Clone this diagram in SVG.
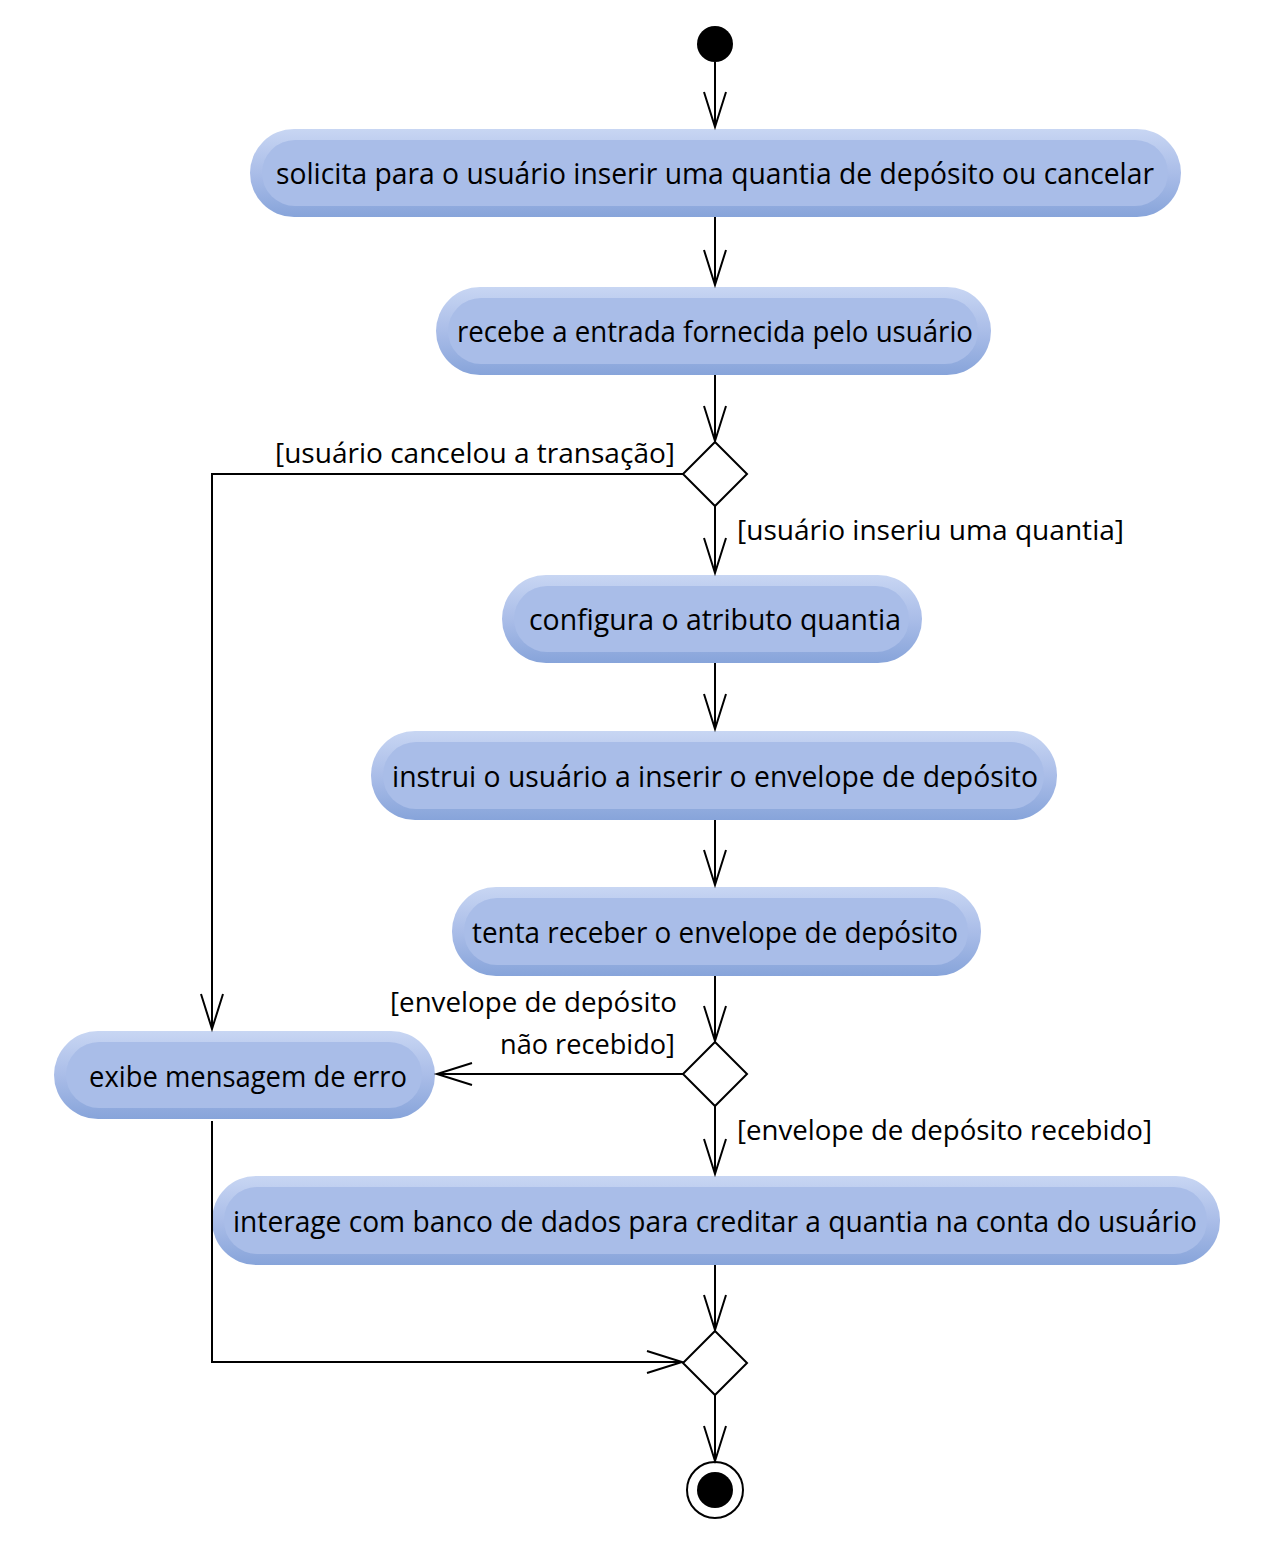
<svg xmlns="http://www.w3.org/2000/svg" width="1275" height="1544" viewBox="0 0 1275 1544">
<style>
.t{font-family:"Open Sans","DejaVu Sans",sans-serif;font-size:29px;fill:#000;text-anchor:middle}
.l{font-family:"Open Sans","DejaVu Sans",sans-serif;font-size:28px;fill:#000}
.in{fill:#a9bde8}
.c{fill:none;stroke:#000;stroke-width:2}
.d{fill:#fff;stroke:#000;stroke-width:2}
</style>
<defs>
<linearGradient id="g" x1="0" y1="0" x2="0" y2="1">
<stop offset="0" stop-color="#c8d6f3"/>
<stop offset="0.5" stop-color="#aabde8"/>
<stop offset="1" stop-color="#87a4da"/>
</linearGradient>
<marker id="a" markerWidth="40" markerHeight="24" refX="36" refY="12" orient="auto" markerUnits="userSpaceOnUse">
<path d="M1,1 L36,12 L1,23" fill="none" stroke="#000" stroke-width="2"/>
</marker>
</defs>
<g id="start"><circle cx="715" cy="44" r="18" fill="#000"/></g>
<g id="n1"><rect x="250" y="129" width="931" height="88" rx="44" fill="url(#g)"/><rect x="262" y="140" width="906" height="66" rx="33" class="in"/><text class="t" x="715" y="184" textLength="878" lengthAdjust="spacingAndGlyphs">solicita para o usuário inserir uma quantia de depósito ou cancelar</text></g>
<g id="n2"><rect x="436" y="287" width="555" height="88" rx="44" fill="url(#g)"/><rect x="448" y="298" width="530" height="66" rx="33" class="in"/><text class="t" x="715" y="342" textLength="516" lengthAdjust="spacingAndGlyphs">recebe a entrada fornecida pelo usuário</text></g>
<g id="d1"><path class="d" d="M715,442 L747,474 L715,506 L683,474 Z"/></g>
<g id="n3"><rect x="502" y="575" width="420" height="88" rx="44" fill="url(#g)"/><rect x="514" y="586" width="395" height="66" rx="33" class="in"/><text class="t" x="715" y="630" textLength="372" lengthAdjust="spacingAndGlyphs">configura o atributo quantia</text></g>
<g id="n4"><rect x="371" y="731" width="686" height="89" rx="44" fill="url(#g)"/><rect x="383" y="742" width="661" height="67" rx="33" class="in"/><text class="t" x="715" y="787" textLength="646" lengthAdjust="spacingAndGlyphs">instrui o usuário a inserir o envelope de depósito</text></g>
<g id="n5"><rect x="452" y="887" width="529" height="89" rx="44" fill="url(#g)"/><rect x="464" y="898" width="504" height="67" rx="33" class="in"/><text class="t" x="715" y="943" textLength="486" lengthAdjust="spacingAndGlyphs">tenta receber o envelope de depósito</text></g>
<g id="d2"><path class="d" d="M715,1042 L747,1074 L715,1106 L683,1074 Z"/></g>
<g id="n6"><rect x="54" y="1031" width="381" height="88" rx="44" fill="url(#g)"/><rect x="66" y="1042" width="356" height="66" rx="33" class="in"/><text class="t" x="248" y="1087" textLength="318" lengthAdjust="spacingAndGlyphs">exibe mensagem de erro</text></g>
<g id="n7"><rect x="212" y="1176" width="1008" height="89" rx="44" fill="url(#g)"/><rect x="224" y="1187" width="983" height="67" rx="33" class="in"/><text class="t" x="715" y="1232" textLength="964" lengthAdjust="spacingAndGlyphs">interage com banco de dados para creditar a quantia na conta do usuário</text></g>
<g id="d3"><path class="d" d="M715,1331 L747,1363 L715,1395 L683,1363 Z"/></g>
<g id="end"><circle cx="715" cy="1490" r="28" fill="#fff" stroke="#000" stroke-width="2"/><circle cx="715" cy="1490" r="18" fill="#000"/></g>
<g id="connectors">
<path class="c" d="M715,62 L715,127" marker-end="url(#a)"/>
<path class="c" d="M715,217 L715,285" marker-end="url(#a)"/>
<path class="c" d="M715,375 L715,441" marker-end="url(#a)"/>
<path class="c" d="M683,474 L212,474 L212,1029" marker-end="url(#a)"/>
<path class="c" d="M715,506 L715,573" marker-end="url(#a)"/>
<path class="c" d="M715,663 L715,729" marker-end="url(#a)"/>
<path class="c" d="M715,820 L715,885" marker-end="url(#a)"/>
<path class="c" d="M715,976 L715,1041" marker-end="url(#a)"/>
<path class="c" d="M683,1074 L437,1074" marker-end="url(#a)"/>
<path class="c" d="M715,1106 L715,1174" marker-end="url(#a)"/>
<path class="c" d="M715,1265 L715,1330" marker-end="url(#a)"/>
<path class="c" d="M212,1121 L212,1362 L682,1362" marker-end="url(#a)"/>
<path class="c" d="M715,1395 L715,1461" marker-end="url(#a)"/>
<text class="l" x="675" y="463" text-anchor="end" textLength="400" lengthAdjust="spacingAndGlyphs">[usuário cancelou a transação]</text>
<text class="l" x="737" y="540" textLength="387" lengthAdjust="spacingAndGlyphs">[usuário inseriu uma quantia]</text>
<text class="l" x="677" y="1012" text-anchor="end" textLength="287" lengthAdjust="spacingAndGlyphs">[envelope de depósito</text>
<text class="l" x="675" y="1054" text-anchor="end" textLength="175" lengthAdjust="spacingAndGlyphs">não recebido]</text>
<text class="l" x="737" y="1140" textLength="415" lengthAdjust="spacingAndGlyphs">[envelope de depósito recebido]</text>
</g>
</svg>
